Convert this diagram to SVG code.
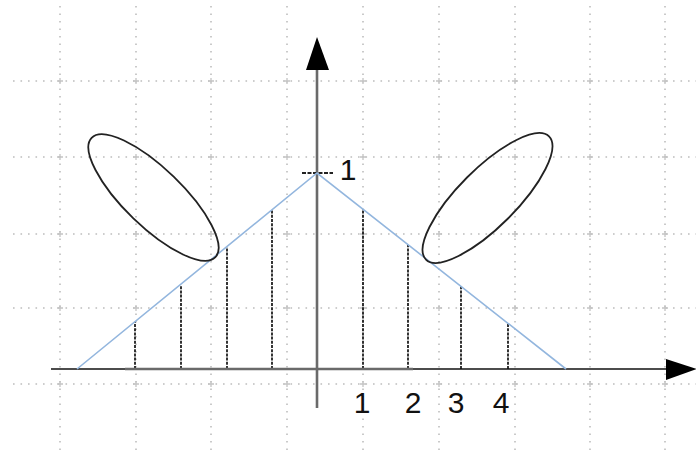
<svg xmlns="http://www.w3.org/2000/svg" width="696" height="453" viewBox="0 0 696 453">
<style>
.grid{stroke:#bdbdbd;stroke-width:1.6;stroke-dasharray:1.6 5.9;fill:none}
.cross{stroke:#c4c4c4;stroke-width:1.3;fill:none}
.axis{stroke:#6a6a6a;stroke-width:2.6;fill:none}
.axisb{stroke:#111;stroke-width:1.6;fill:none}
.tri{stroke:#93b6de;stroke-width:1.6;fill:none}
.drop{stroke:#111;stroke-width:1.7;stroke-dasharray:3 1.2;fill:none}
.ell{stroke:#222;stroke-width:1.8;fill:none}
.lbl{font-family:"Liberation Sans",Arial,sans-serif;font-size:30px;fill:#111;text-anchor:middle}
</style>
<rect width="696" height="453" fill="#fff"/>
<g id="grid">
<path class="grid" d="M13 81H696M13 157H696M13 234H696M13 308H696M13 384H696"/>
<path class="grid" d="M60 6V453M136 6V453M211 6V453M287 6V453M363 6V453M439 6V453M515 6V453M590 6V453M665 6V453"/>
<path class="cross" d="M57 81h6M60 78v6M133 81h6M136 78v6M208 81h6M211 78v6M284 81h6M287 78v6M360 81h6M363 78v6M436 81h6M439 78v6M512 81h6M515 78v6M587 81h6M590 78v6M662 81h6M665 78v6
M57 157h6M60 154v6M133 157h6M136 154v6M208 157h6M211 154v6M284 157h6M287 154v6M360 157h6M363 154v6M436 157h6M439 154v6M512 157h6M515 154v6M587 157h6M590 154v6M662 157h6M665 154v6
M57 234h6M60 231v6M133 234h6M136 231v6M208 234h6M211 231v6M284 234h6M287 231v6M360 234h6M363 231v6M436 234h6M439 231v6M512 234h6M515 231v6M587 234h6M590 231v6M662 234h6M665 231v6
M57 308h6M60 305v6M133 308h6M136 305v6M208 308h6M211 305v6M284 308h6M287 305v6M360 308h6M363 305v6M436 308h6M439 305v6M512 308h6M515 305v6M587 308h6M590 305v6M662 308h6M665 305v6
M57 384h6M60 381v6M133 384h6M136 381v6M208 384h6M211 381v6M284 384h6M287 381v6M360 384h6M363 381v6M436 384h6M439 381v6M512 384h6M515 381v6M587 384h6M590 381v6M662 384h6M665 381v6"/>
</g>
<g id="drops">
<path class="drop" d="M135 369V322M181 369V285M227 369V247M272 369V210"/>
<path class="drop" d="M363 369V209M408 369V245M461 369V286M508 369V323"/>
</g>
<g id="axes">
<path class="axisb" d="M51 369H125"/>
<path class="axis" d="M125 369H413"/>
<path class="axisb" d="M413 369H670"/>
<polygon points="666,359 697,369 666,380" fill="#000"/>
<path class="axis" d="M317 408V66"/>
<polygon points="306,70 317,37 329,70" fill="#000"/>
<path d="M302 173H333" stroke="#222" stroke-width="1.8" stroke-dasharray="4 1.5" fill="none"/>
</g>
<g id="triangle">
<polyline class="tri" points="77,369 317,173 566,369"/>
</g>
<g id="ellipses">
<ellipse class="ell" cx="153.5" cy="197.5" rx="86" ry="29" transform="rotate(44 153.5 197.5)"/>
<ellipse class="ell" cx="487.5" cy="198" rx="87" ry="29" transform="rotate(-45 487.5 198)"/>
</g>
<g id="labels">
<text class="lbl" x="348" y="180">1</text>
<text class="lbl" x="362" y="413">1</text>
<text class="lbl" x="413" y="413">2</text>
<text class="lbl" x="456" y="413">3</text>
<text class="lbl" x="501" y="413">4</text>
</g>
</svg>
